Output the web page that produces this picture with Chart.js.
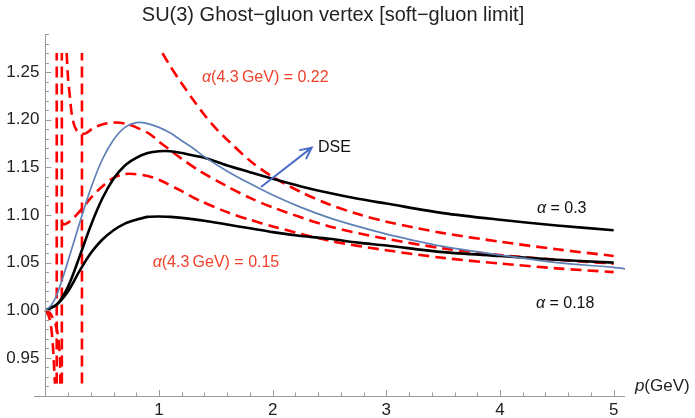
<!DOCTYPE html>
<html>
<head>
<meta charset="utf-8">
<title>SU(3) Ghost-gluon vertex</title>
<script src="https://cdn.jsdelivr.net/npm/chart.js@4.4.1/dist/chart.umd.min.js"></script>
<style>
  html, body { margin: 0; padding: 0; background: #fff; }
  canvas { display: block; }
</style>
</head>
<body>
<canvas id="vertexChart" width="695" height="418"></canvas>
<script>
// Values: p in GeV, vertex dressing on y

// Lattice-fit curves (black)
const pBlack = [0, 0.1, 0.2, 0.3, 0.4, 0.5, 0.6, 0.7, 0.8, 0.9, 1.0, 1.1, 1.2, 1.4, 1.6, 1.8, 2.0, 2.25, 2.5, 2.75, 3.0, 3.5, 4.0, 4.5, 5.0];
const alpha030 = [1.0, 1.006, 1.025, 1.056, 1.089, 1.117, 1.138, 1.152, 1.160, 1.165, 1.167, 1.167, 1.165, 1.160, 1.152, 1.145, 1.138, 1.130, 1.123, 1.117, 1.112, 1.102, 1.095, 1.089, 1.084];
const alpha018 = [1.0, 1.006, 1.02, 1.041, 1.060, 1.074, 1.084, 1.091, 1.095, 1.098, 1.0985, 1.098, 1.097, 1.094, 1.090, 1.086, 1.082, 1.078, 1.075, 1.071, 1.068, 1.061, 1.057, 1.053, 1.050];

// DSE result (blue)
const pDse = [0, 0.05, 0.1, 0.15, 0.2, 0.3, 0.4, 0.5, 0.6, 0.7, 0.8, 0.9, 1.0, 1.1, 1.2, 1.3, 1.4, 1.6, 1.8, 2.0, 2.25, 2.5, 2.75, 3.0, 3.5, 4.0, 4.5, 5.0, 5.13];
const dse = [1.0, 1.005, 1.016, 1.033, 1.052, 1.091, 1.128, 1.158, 1.179, 1.192, 1.197, 1.196, 1.192, 1.186, 1.178, 1.170, 1.161, 1.146, 1.133, 1.121, 1.108, 1.097, 1.088, 1.080, 1.067, 1.058, 1.050, 1.045, 1.043];

// Perturbative curves (red dashed)
const pRed22 = [1.03, 1.1, 1.2, 1.3, 1.4, 1.5, 1.6, 1.8, 2.0, 2.25, 2.5, 2.75, 3.0, 3.5, 4.0, 4.5, 5.0];
const red22 = [1.27, 1.256, 1.238, 1.221, 1.205, 1.191, 1.179, 1.157, 1.140, 1.124, 1.111, 1.101, 1.093, 1.081, 1.072, 1.064, 1.057];

const pRedMid = [0.187, 0.2, 0.216, 0.231, 0.252, 0.275, 0.3, 0.322, 0.36, 0.42, 0.5, 0.6, 0.7, 0.8, 0.92, 1.0, 1.1, 1.2, 1.36, 1.6, 1.8, 2.0, 2.5, 3.0, 3.5, 4.0, 4.5, 5.0];
const redMid = [1.27, 1.243, 1.224, 1.207, 1.195, 1.189, 1.186, 1.185, 1.186, 1.191, 1.195, 1.197, 1.196, 1.192, 1.185, 1.177, 1.168, 1.159, 1.146, 1.130, 1.118, 1.108, 1.088, 1.075, 1.065, 1.058, 1.053, 1.049];

const pRed15 = [0.145, 0.16, 0.2, 0.25, 0.325, 0.4, 0.5, 0.6, 0.7, 0.78, 0.9, 1.0, 1.2, 1.36, 1.6, 1.8, 2.0, 2.5, 3.0, 3.5, 4.0, 4.5, 5.0];
const red15 = [1.093, 1.090, 1.092, 1.097, 1.107, 1.118, 1.13, 1.139, 1.143, 1.143, 1.141, 1.137, 1.125, 1.115, 1.103, 1.095, 1.088, 1.073, 1.063, 1.055, 1.049, 1.044, 1.040];

// small-p branches diving below the plot range
const pRedDipA = [0, 0.03, 0.05, 0.065, 0.075, 0.084];
const redDipA = [1.0, 0.994, 0.983, 0.965, 0.945, 0.923];
const pRedDipB = [0, 0.04, 0.09, 0.115, 0.128, 0.132];
const redDipB = [1.0, 0.997, 0.985, 0.97, 0.95, 0.923];

// poles of the perturbative expressions, drawn across the whole range
const polePositions = [0.1, 0.145, 0.322];
const poleRange = [0.923, 1.27];

// Axes
const xTicks = [1, 2, 3, 4, 5];
const xTickLabels = ['1', '2', '3', '4', '5'];
const yTicks = [0.95, 1.00, 1.05, 1.10, 1.15, 1.20, 1.25];
const yTickLabels = ['0.95', '1.00', '1.05', '1.10', '1.15', '1.20', '1.25'];

const RED = '#ff0000';
const TEXT_RED = '#f0412b';
const BLUE = '#5e81b5';
const ARROW_BLUE = '#4b6cc6';
const FONT = '"Liberation Sans", Arial, Helvetica, sans-serif';

function toPoints(xs, ys) {
    return xs.map((x, i) => ({ x: x, y: ys[i] }));
}

function solid(xs, ys, color, width) {
    return {
        data: toPoints(xs, ys),
        borderColor: color,
        borderWidth: width,
        showLine: true,
        pointRadius: 0,
        tension: 0.3,
        fill: false
    };
}

function dashed(xs, ys) {
    const ds = solid(xs, ys, RED, 2.6);
    ds.borderDash = [11, 6];
    return ds;
}

const datasets = [
    solid(pDse, dse, BLUE, 1.7),
    solid(pBlack, alpha030, '#000', 2.6),
    solid(pBlack, alpha018, '#000', 2.6),
    dashed(pRed22, red22),
    dashed(pRedMid, redMid),
    dashed(pRed15, red15),
    dashed(pRedDipA, redDipA),
    dashed(pRedDipB, redDipB)
];
polePositions.forEach(p => {
    const ds = dashed([p, p], poleRange);
    ds.tension = 0;
    datasets.push(ds);
});

// text pieces drawn on top: [x, y] in data units (left edge, vertical middle)
const annotations = [
    { at: [1.378, 1.244], color: TEXT_RED, parts: [['α', true], ['(4.3\u2009GeV) = 0.22', false]] },
    { at: [0.944, 1.0505], color: TEXT_RED, parts: [['α', true], ['(4.3\u2009GeV) = 0.15', false]] },
    { at: [2.398, 1.171], color: '#111', parts: [['DSE', false]] },
    { at: [4.325, 1.107], color: '#111', parts: [['α', true], [' = 0.3', false]] },
    { at: [4.316, 1.0073], color: '#111', parts: [['α', true], [' = 0.18', false]] }
];
const arrowFrom = [1.903, 1.130];
const arrowTo = [2.343, 1.1707];

function drawParts(ctx, parts, x, y, size) {
    let cx = x;
    parts.forEach(([text, italic]) => {
        ctx.font = (italic ? 'italic ' : '') + size + 'px ' + FONT;
        ctx.fillText(text, cx, y);
        cx += ctx.measureText(text).width;
    });
}

// Mathematica style axes: crossing at (0, ymin), ticks pointing inwards
const axesPlugin = {
    id: 'mmaAxes',
    afterDatasetsDraw(chart) {
        const { ctx, chartArea } = chart;
        const xs = chart.scales.x;
        const ys = chart.scales.y;
        const x0 = xs.getPixelForValue(0);
        const yBase = chartArea.bottom;

        ctx.save();
        ctx.strokeStyle = '#9a9a9a';
        ctx.lineWidth = 1;

        ctx.beginPath();
        ctx.moveTo(chartArea.left, yBase + 0.5);
        ctx.lineTo(chartArea.right, yBase + 0.5);
        ctx.moveTo(Math.round(x0) + 0.5, yBase);
        ctx.lineTo(Math.round(x0) + 0.5, chartArea.top);
        ctx.stroke();

        // x ticks every 0.2, majors on integers
        ctx.beginPath();
        for (let i = 0; i <= 25; i++) {
            const px = Math.round(xs.getPixelForValue(i * 0.2)) + 0.5;
            const len = i % 5 === 0 ? 6 : 3.5;
            ctx.moveTo(px, yBase);
            ctx.lineTo(px, yBase - len);
        }
        // y ticks every 0.01, majors every 0.05
        for (let i = 92; i <= 129; i++) {
            const py = Math.round(ys.getPixelForValue(i / 100)) + 0.5;
            const len = i % 5 === 0 ? 6 : 3.5;
            ctx.moveTo(x0, py);
            ctx.lineTo(x0 + len, py);
        }
        ctx.stroke();

        ctx.fillStyle = '#222';
        ctx.font = '17px ' + FONT;
        ctx.textBaseline = 'middle';
        ctx.textAlign = 'center';
        xTicks.forEach((v, i) => {
            ctx.fillText(xTickLabels[i], xs.getPixelForValue(v), yBase + 14);
        });
        ctx.textAlign = 'right';
        yTicks.forEach((v, i) => {
            ctx.fillText(yTickLabels[i], x0 - 6, ys.getPixelForValue(v));
        });

        // axis label
        ctx.textAlign = 'left';
        drawParts(ctx, [['p', true], ['(GeV)', false]], xs.getPixelForValue(5.187), ys.getPixelForValue(0.9205), 17);

        // title
        ctx.textAlign = 'center';
        ctx.font = '20px ' + FONT;
        ctx.fillText('SU(3) Ghost\u2212gluon vertex [soft\u2212gluon limit]', 333, 15);
        ctx.restore();
    }
};

const labelsPlugin = {
    id: 'curveLabels',
    afterDraw(chart) {
        const { ctx } = chart;
        const xs = chart.scales.x;
        const ys = chart.scales.y;

        ctx.save();
        ctx.textAlign = 'left';
        ctx.textBaseline = 'middle';
        annotations.forEach(a => {
            ctx.fillStyle = a.color;
            drawParts(ctx, a.parts, xs.getPixelForValue(a.at[0]), ys.getPixelForValue(a.at[1]), 16);
        });

        // arrow pointing at the DSE curve label
        const x1 = xs.getPixelForValue(arrowFrom[0]);
        const y1 = ys.getPixelForValue(arrowFrom[1]);
        const x2 = xs.getPixelForValue(arrowTo[0]);
        const y2 = ys.getPixelForValue(arrowTo[1]);
        const ang = Math.atan2(y2 - y1, x2 - x1);
        const head = 12;
        ctx.strokeStyle = ARROW_BLUE;
        ctx.lineWidth = 2;
        ctx.lineCap = 'round';
        ctx.beginPath();
        ctx.moveTo(x1, y1);
        ctx.lineTo(x2, y2);
        ctx.moveTo(x2 - head * Math.cos(ang - 0.45), y2 - head * Math.sin(ang - 0.45));
        ctx.lineTo(x2, y2);
        ctx.lineTo(x2 - head * Math.cos(ang + 0.45), y2 - head * Math.sin(ang + 0.45));
        ctx.stroke();
        ctx.restore();
    }
};

new Chart(document.getElementById('vertexChart'), {
    type: 'scatter',
    data: { datasets: datasets },
    options: {
        responsive: false,
        animation: false,
        layout: { padding: { left: 34, right: 70, top: 34, bottom: 22 } },
        plugins: {
            legend: { display: false },
            tooltip: { enabled: false },
            title: { display: false }
        },
        scales: {
            x: { type: 'linear', min: -0.1, max: 5.1, display: false },
            y: { type: 'linear', min: 0.91, max: 1.29, display: false }
        }
    },
    plugins: [axesPlugin, labelsPlugin]
});
</script>
</body>
</html>
